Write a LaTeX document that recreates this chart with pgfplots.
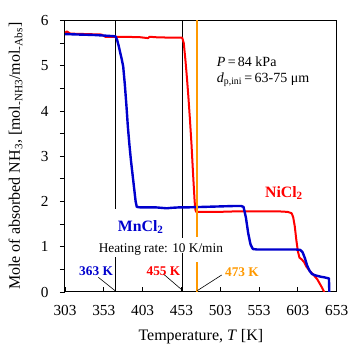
\documentclass[border=0pt]{standalone}
\usepackage{fontspec}
\setmainfont{Liberation Serif}
\usepackage{pgfplots}
\pgfplotsset{compat=1.18}
\definecolor{mnblue}{RGB}{0,0,205}
\definecolor{nired}{RGB}{255,0,0}
\definecolor{orng}{RGB}{255,153,0}
\begin{document}
\begin{tikzpicture}
\useasboundingbox (-65pt,-53pt) rectangle (291pt,292pt);
\begin{axis}[
  at={(0pt,0pt)}, anchor=south west,
  scale only axis, width=271.7pt, height=271.5pt,
  xmin=303, xmax=653, ymin=0, ymax=6,
  xtick={303,353,...,653}, ytick={0,1,...,6},
  minor ytick={0.5,1.5,...,5.5},
  xtick pos=left, ytick pos=left,
  xtick align=inside, ytick align=outside,
  major tick length=5pt, minor tick length=5pt,
  tick style={black, line width=0.8pt},
  axis line style={line width=1pt},
  /pgf/number format/assume math mode=true,
  /pgf/number format/1000 sep={},
  ticklabel style={font=\fontsize{15.3}{18}\selectfont},
  xticklabel style={yshift=-10pt},
  yticklabel style={xshift=-8pt},
  xlabel={Temperature, \textit{T} [K]},
  ylabel={Mole of absorbed NH\textsubscript{3}, [mol\textsubscript{-NH3}/mol\textsubscript{-Abs}]},
  label style={font=\fontsize{16}{19}\selectfont},
  xlabel style={at={(axis description cs:0.5,-0.163)}, anchor=center},
  ylabel style={at={(axis description cs:-0.182,0.5)}, anchor=center},
  no marks,
]
% vertical reference lines
\addplot[black, line width=0.8pt] coordinates {(367.6,6) (367.6,1.83)};
\addplot[black, line width=0.8pt] coordinates {(367.6,0.77) (367.6,0)};
\addplot[black, line width=0.8pt] coordinates {(454.2,6) (454.2,1.19)};
\addplot[black, line width=0.8pt] coordinates {(454.2,0.86) (454.2,0)};
% NiCl2
\addplot[nired, line width=2pt, line join=round] coordinates {
(303,5.72) (305,5.76) (307,5.74) (310,5.71) (330,5.70) (350,5.69) (355,5.64)
(380,5.64) (400,5.63) (410,5.61) (412,5.64) (420,5.63) (440,5.62) (454,5.62)
(456,5.50) (458,5.15) (460,4.75) (462,4.30) (464,3.80) (466,3.25) (468,2.60)
(470,2.00) (471,1.82) (472,1.77) (480,1.77) (500,1.77) (520,1.78) (540,1.78)
(560,1.78) (580,1.78) (590,1.77) (595,1.74) (597,1.65) (599,1.45) (601,1.15)
(603,0.90) (605,0.76) (608,0.72) (611,0.66) (614,0.56) (618,0.47) (623,0.38)
(628,0.28) (633,0.13) (637,0.0)
};
% MnCl2
\addplot[mnblue, line width=2.4pt, line join=round] coordinates {
(303,5.70) (320,5.69) (340,5.68) (360,5.66) (368,5.65) (370,5.58) (372,5.45)
(374,5.30) (376,5.15) (378,4.98) (380,4.60) (382,4.15) (384,3.65) (386,3.25)
(388,2.90) (390,2.60) (392,2.30) (394,2.00) (395.5,1.88)
(400,1.87) (420,1.87) (434,1.85) (440,1.86) (450,1.87)
(460,1.87) (480,1.88) (500,1.89) (520,1.90) (530,1.90) (533,1.88) (536,1.65)
(539,1.30) (542,1.05) (545,0.95) (550,0.94) (580,0.94) (600,0.94) (606,0.93)
(609,0.88) (612,0.75) (615,0.58) (618,0.47) (621,0.40) (625,0.37) (632,0.34)
(638,0.32) (643,0.30) (643.5,0.0)
};
% orange line
\addplot[orng, line width=2pt] coordinates {(473.2,6) (473.2,1.22)};
\addplot[orng, line width=2pt] coordinates {(473.2,0.66) (473.2,0)};
% leader lines
\draw[black, line width=0.6pt] (axis cs:345.9,0.325) -- (axis cs:367.4,0.03);
\draw[black, line width=0.6pt] (axis cs:429.6,0.40) -- (axis cs:454.1,0.04);
\draw[black, line width=0.6pt] (axis cs:504.9,0.376) -- (axis cs:473.4,0.03);
% texts
\node[anchor=west, font=\fontsize{14}{16}\selectfont, inner sep=0pt] at (axis cs:498.4,5.09) {\textit{P}\,=\,84 kPa};
\node[anchor=west, font=\fontsize{14}{16}\selectfont, inner sep=0pt] at (axis cs:498.4,4.69) {\textit{d}\textsubscript{p,ini}\,=\,63-75 μm};
\node[font=\fontsize{15.8}{18}\selectfont\bfseries, text=mnblue, inner sep=0pt] at (axis cs:400.6,1.44) {MnCl\textsubscript{2}};
\node[font=\fontsize{15.8}{18}\selectfont\bfseries, text=nired, inner sep=0pt] at (axis cs:585,2.19) {NiCl\textsubscript{2}};
\node[font=\fontsize{13.3}{15}\selectfont, inner sep=0pt] at (axis cs:426.5,0.93) {Heating rate: 10 K/min};
\node[font=\fontsize{13.3}{15}\selectfont\bfseries, text=mnblue, inner sep=0pt] at (axis cs:343,0.45) {363 K};
\node[font=\fontsize{13.3}{15}\selectfont\bfseries, text=nired, inner sep=0pt] at (axis cs:429.9,0.45) {455 K};
\node[font=\fontsize{13.3}{15}\selectfont\bfseries, text=orng, inner sep=0pt] at (axis cs:531,0.43) {473 K};
\end{axis}
\end{tikzpicture}
\end{document}
